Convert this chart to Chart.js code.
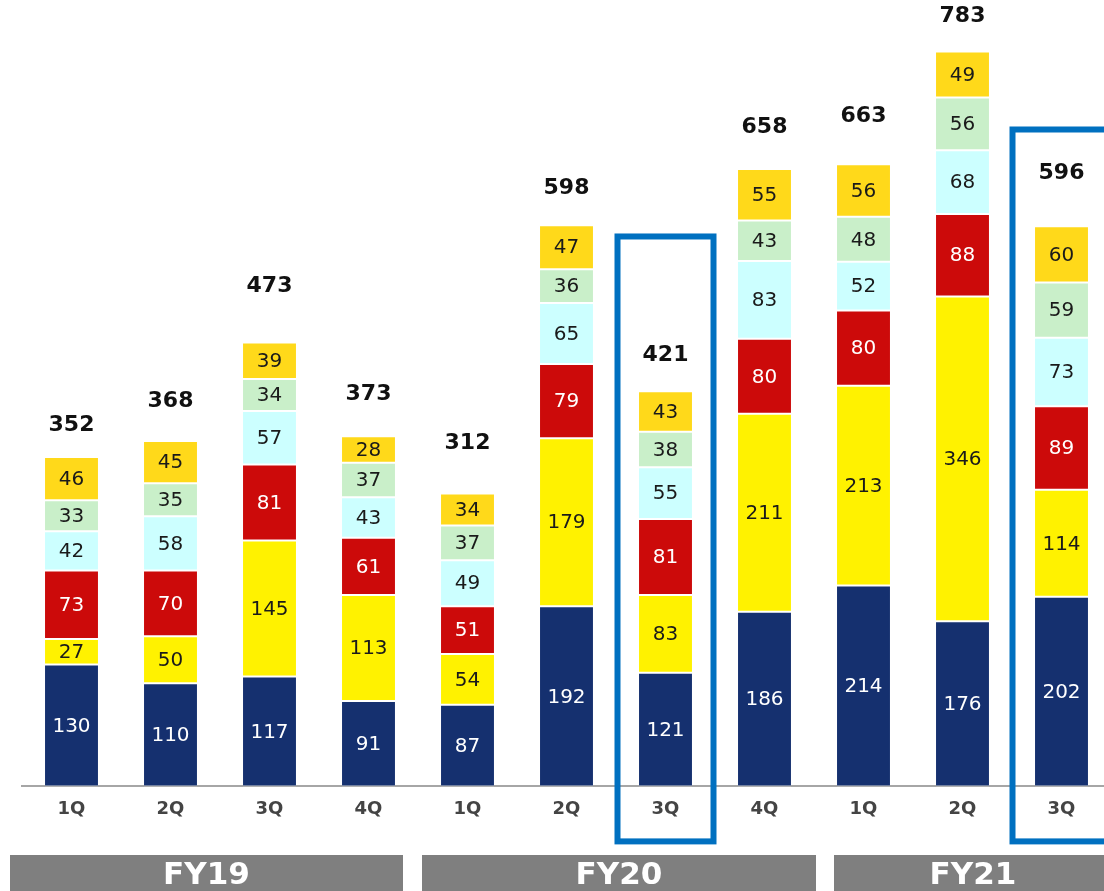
<!DOCTYPE html>
<html>
<head>
<meta charset="utf-8">
<script src="https://cdn.jsdelivr.net/npm/chart.js@4.4.1/dist/chart.umd.min.js"></script>
<style>
  html, body { margin: 0; padding: 0; background: #fff; overflow: hidden; }
  #wrap { position: absolute; left: 0; top: 0; width: 1112px; height: 891px; }
</style>
</head>
<body>
<div id="wrap"><canvas id="salesChart" width="1112" height="891"></canvas></div>
<script>
// 四半期ラベル
const quarters = ['1Q', '2Q', '3Q', '4Q', '1Q', '2Q', '3Q', '4Q', '1Q', '2Q', '3Q'];
const fiscalYears = ['FY19', 'FY20', 'FY21'];
const fySpans = [[0, 3], [4, 7], [8, 10]];

// 積み上げの下から順
const navyVals   = [130, 110, 117,  91,  87, 192, 121, 186, 214, 176, 202];
const yellowVals = [ 27,  50, 145, 113,  54, 179,  83, 211, 213, 346, 114];
const redVals    = [ 73,  70,  81,  61,  51,  79,  81,  80,  80,  88,  89];
const cyanVals   = [ 42,  58,  57,  43,  49,  65,  55,  83,  52,  68,  73];
const greenVals  = [ 33,  35,  34,  37,  37,  36,  38,  43,  48,  56,  59];
const goldVals   = [ 46,  45,  39,  28,  34,  47,  43,  55,  56,  49,  60];
const totals     = [352, 368, 473, 373, 312, 598, 421, 658, 663, 783, 596];

// 枠で囲む四半期
const highlightIdx = [6, 10];

const FONT = "'DejaVu Sans', Verdana, sans-serif";

function ds(data, color, textColor) {
  return {
    data,
    backgroundColor: color,
    borderColor: '#ffffff',
    borderWidth: { top: 1, bottom: 1, left: 0, right: 0 },
    borderSkipped: false,
    textColor,
  };
}

// セグメント内の数値・合計・枠・年度バー
const overlayPlugin = {
  id: 'overlay',
  afterDatasetsDraw(chart, args, opts) {
    const { ctx } = chart;
    const x = chart.scales.x;
    const y = chart.scales.y;
    ctx.save();
    ctx.textAlign = 'center';
    ctx.textBaseline = 'middle';

    // segment labels
    ctx.font = '20px ' + FONT;
    chart.data.datasets.forEach((d, di) => {
      const meta = chart.getDatasetMeta(di);
      meta.data.forEach((bar, i) => {
        ctx.fillStyle = d.textColor;
        ctx.fillText(String(d.data[i]), bar.x, (bar.y + bar.base) / 2 + 1);
      });
    });

    // totals
    ctx.font = 'bold 22px ' + FONT;
    ctx.fillStyle = '#111';
    const lastMeta = chart.getDatasetMeta(chart.data.datasets.length - 1);
    totals.forEach((t, i) => {
      const bar = lastMeta.data[i];
      ctx.fillText(String(t), bar.x, bar.y - opts.totalGap[i]);
    });

    // highlight boxes
    ctx.strokeStyle = '#0070C0';
    ctx.lineWidth = 6;
    highlightIdx.forEach((idx, k) => {
      const cx = x.getPixelForValue(idx);
      const top = y.getPixelForValue(opts.boxTop[k]);
      const bottom = y.getPixelForValue(0) + 55;
      ctx.strokeRect(cx - 48 - (k === 1 ? 1 : 0), top, 96, bottom - top);
    });

    // fiscal year bands
    ctx.font = 'bold 31px ' + FONT;
    fiscalYears.forEach((fy, k) => {
      const [a, b] = fySpans[k];
      const left = x.getPixelForValue(a) + opts.bandPad[k][0];
      const right = b === quarters.length - 1 ? chart.width : x.getPixelForValue(b) + opts.bandPad[k][1];
      ctx.fillStyle = '#7f7f7f';
      ctx.fillRect(left, 855, right - left, 40);
      ctx.fillStyle = '#ffffff';
      ctx.fillText(fy, (left + right) / 2, 876);
    });
    ctx.restore();
  }
};

new Chart(document.getElementById('salesChart'), {
  type: 'bar',
  data: {
    labels: quarters,
    datasets: [
      ds(navyVals,   '#15306f', '#ffffff'),
      ds(yellowVals, '#fff200', '#1a1a1a'),
      ds(redVals,    '#cc0a0a', '#ffffff'),
      ds(cyanVals,   '#ccffff', '#1a1a1a'),
      ds(greenVals,  '#c9efc9', '#1a1a1a'),
      ds(goldVals,   '#ffd91a', '#1a1a1a'),
    ]
  },
  options: {
    responsive: false,
    animation: false,
    barPercentage: 0.535,
    categoryPercentage: 1,
    layout: { padding: { left: 22, right: 1, top: 0, bottom: 59 } },
    scales: {
      x: {
        stacked: true,
        grid: { display: false, drawTicks: false },
        border: { display: true, color: '#a6a6a6', width: 2 },
        ticks: { color: '#444', padding: 12, font: { family: FONT, size: 18, weight: 'bold' } }
      },
      y: { stacked: true, display: false, min: 0, max: 838 }
    },
    plugins: {
      legend: { display: false },
      tooltip: { enabled: false },
      overlay: {
        totalGap: [32, 40, 56, 42, 50, 37, 36, 42, 48, 35, 53],
        boxTop: [586, 700],
        bandPad: [[-61.5, 34.5], [-45.5, 51.5], [-29.5, 0]]
      }
    }
  },
  plugins: [overlayPlugin]
});
</script>
</body>
</html>
